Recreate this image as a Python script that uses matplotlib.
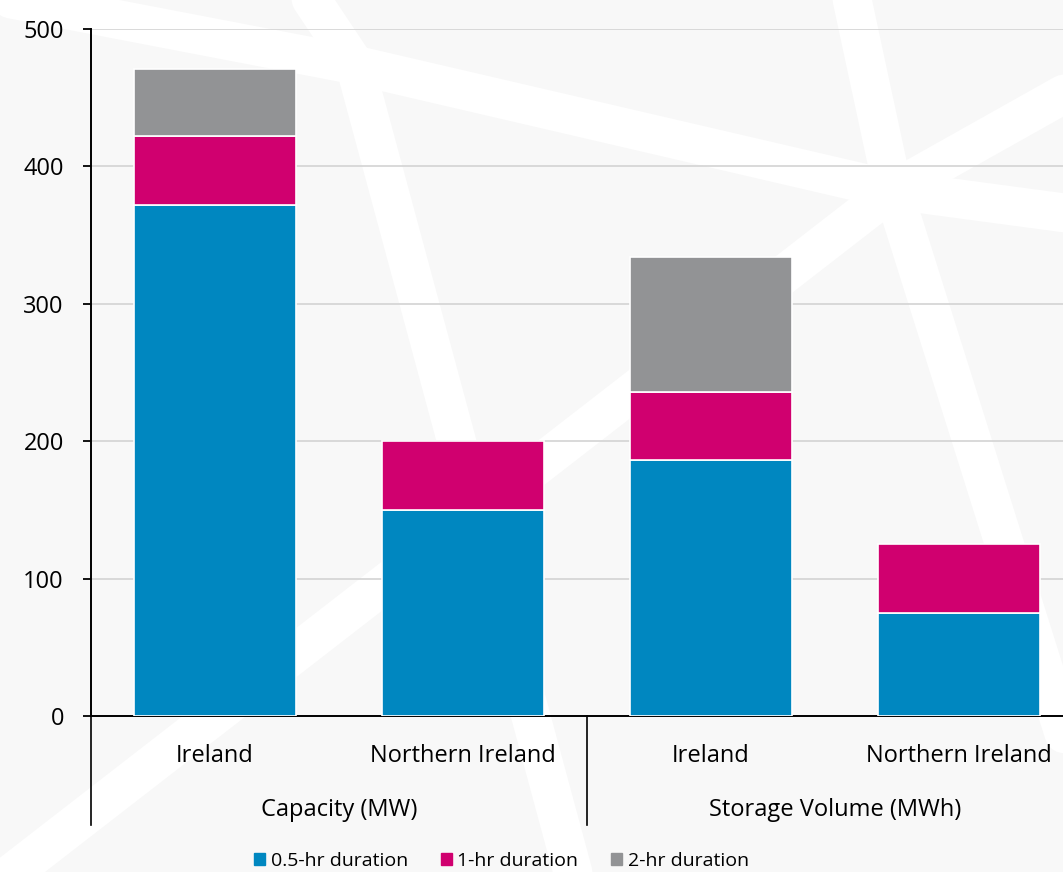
import matplotlib
matplotlib.use('Agg')
import matplotlib.pyplot as plt
import matplotlib.transforms as mtransforms
from matplotlib.patches import Patch, Rectangle

plt.rcParams['font.family'] = ['Open Sans', 'DejaVu Sans']

# data
categories = ['Ireland', 'Northern Ireland', 'Ireland', 'Northern Ireland']
groups = ['Capacity (MW)', 'Storage Volume (MWh)']
series = ['0.5-hr duration', '1-hr duration', '2-hr duration']
half_hr = [372, 150, 186, 75]
one_hr = [50, 50, 50, 50]
two_hr = [49, 0, 98, 0]
colors = ['#0087c0', '#d0006f', '#929395']

W, H = 1063, 872
fig = plt.figure(figsize=(W / 100, H / 100), dpi=100)

# faint watermark behind the chart (pixel coords, y down)
bg = fig.add_axes([0, 0, 1, 1], zorder=-5)
bg.set_xlim(0, W)
bg.set_ylim(H, 0)
bg.axis('off')
bg.add_patch(Rectangle((0, 0), W, H, color='#f8f8f8'))
bands = [((355, 65), (893, 190)), ((355, 65), (575, 880)), ((850, -10), (893, 190)),
         ((893, 190), (1080, 85)), ((893, 190), (1080, 215)), ((893, 190), (-10, 890)),
         ((893, 190), (1110, 880)), ((355, 65), (305, -10)), ((355, 65), (-10, -5))]
for (x0, y0), (x1, y1) in bands:
    bg.plot([x0, x1], [y0, y1], color='white', lw=28, solid_capstyle='round')

ax = fig.add_axes([91 / W, 1 - 716 / H, 992 / W, 687 / H])
ax.patch.set_alpha(0)

x = list(range(len(categories)))
width = 0.657
ax.bar(x, half_hr, width, color=colors[0], edgecolor='white', linewidth=1.2, zorder=3)
ax.bar(x, one_hr, width, bottom=half_hr, color=colors[1], edgecolor='white', linewidth=1.2, zorder=3)
for i in x:
    if two_hr[i] > 0:
        ax.bar(i, two_hr[i], width, bottom=half_hr[i] + one_hr[i], color=colors[2],
               edgecolor='white', linewidth=1.2, zorder=3)

ax.set_xlim(-0.5, 3.5)
ax.set_ylim(0, 500)
ax.set_yticks(range(0, 501, 100))
ax.yaxis.grid(True, color='#d9d9d9', linewidth=1.4)
ax.set_axisbelow(True)
for s in ['top', 'right']:
    ax.spines[s].set_visible(False)
for s in ['left', 'bottom']:
    ax.spines[s].set_linewidth(1.4)
    ax.spines[s].set_color('black')
ax.tick_params(axis='y', length=6, width=1.3, pad=13.5, labelsize=17)
ax.set_xticks([])

# category and group labels under the axis
trans = mtransforms.blended_transform_factory(ax.transData, fig.transFigure)
for i, c in enumerate(categories):
    ax.text(i, 1 - 762 / H, c, transform=trans, ha='center', va='baseline', fontsize=17)
for j, g in enumerate(groups):
    ax.text(2 * j + 0.5, 1 - 816 / H, g, transform=trans, ha='center', va='baseline', fontsize=17)
for xs in [-0.5, 1.5, 3.5]:
    ax.plot([xs, xs], [1 - 716 / H, 1 - 825 / H], transform=trans, color='black',
            linewidth=1.2, clip_on=False)

handles = [Patch(color=c) for c in colors]
fig.legend(handles, series, loc='center', bbox_to_anchor=(0.4718, 1 - 861 / H), ncol=3,
           frameon=False, fontsize=14, handlelength=0.55, handleheight=0.55,
           handletextpad=0.3, columnspacing=1.7)

plt.savefig('out.png', dpi=100)
